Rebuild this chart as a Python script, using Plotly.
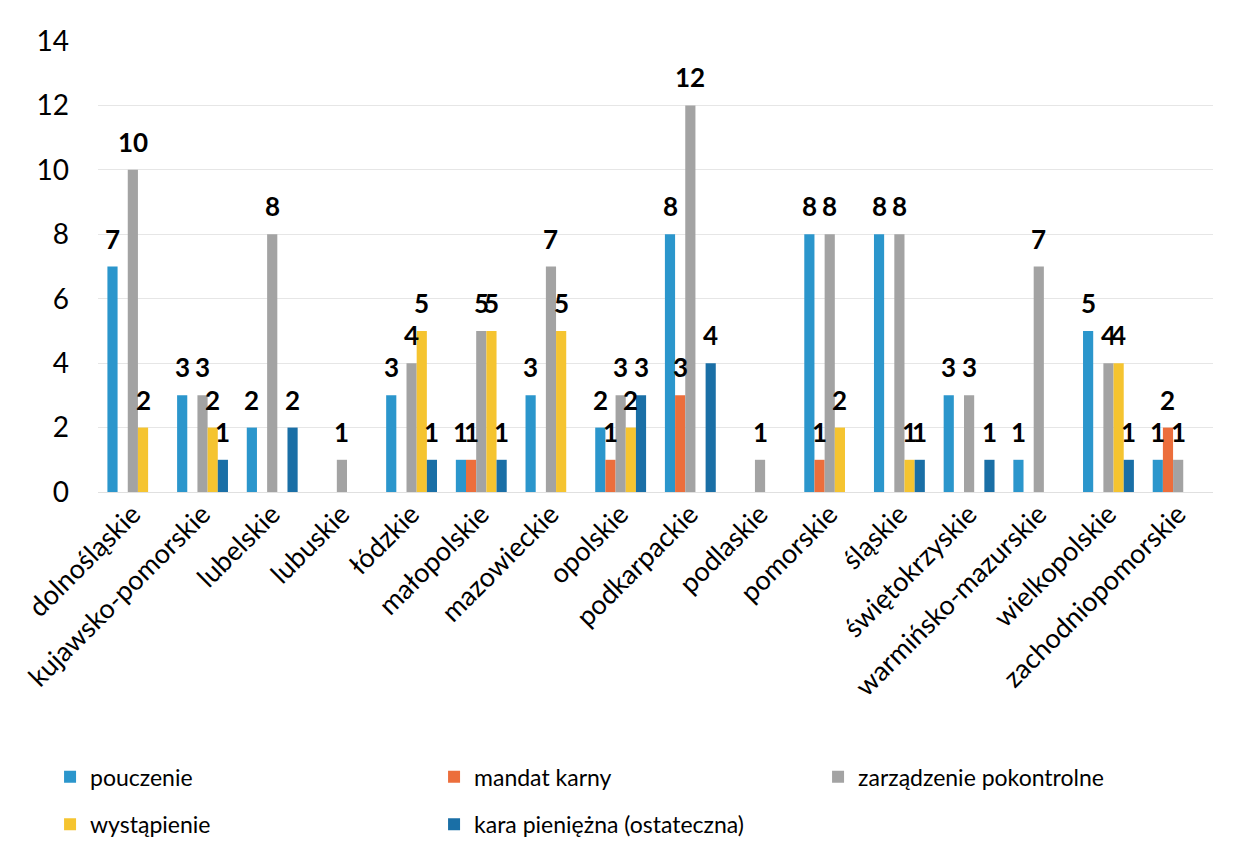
import plotly.graph_objects as go

regions = ["dolnośląskie", "kujawsko-pomorskie", "lubelskie", "lubuskie", "łódzkie",
           "małopolskie", "mazowieckie", "opolskie", "podkarpackie", "podlaskie",
           "pomorskie", "śląskie", "świętokrzyskie", "warmińsko-mazurskie",
           "wielkopolskie", "zachodniopomorskie"]

pouczenie = [7, 3, 2, 0, 3, 1, 3, 2, 8, 0, 8, 8, 3, 1, 5, 1]
mandat_karny = [0, 0, 0, 0, 0, 1, 0, 1, 3, 0, 1, 0, 0, 0, 0, 2]
zarzadzenie = [10, 3, 8, 1, 4, 5, 7, 3, 12, 1, 8, 8, 3, 7, 4, 1]
wystapienie = [2, 2, 0, 0, 5, 5, 5, 2, 0, 0, 2, 1, 0, 0, 4, 0]
kara = [0, 1, 2, 0, 1, 1, 0, 3, 4, 0, 0, 1, 1, 0, 1, 0]

series = [
    ("pouczenie", pouczenie, "#2b96cc"),
    ("mandat karny", mandat_karny, "#ec6e3c"),
    ("zarządzenie pokontrolne", zarzadzenie, "#a3a3a3"),
    ("wystąpienie", wystapienie, "#f5c430"),
    ("kara pieniężna (ostateczna)", kara, "#1a6fa6"),
]

FONT = "Lato"
BARGAP = 0.27

fig = go.Figure()
for k, (name, vals, color) in enumerate(series):
    fig.add_trace(go.Bar(
        x=regions, y=vals, name=name,
        marker=dict(color=color, line=dict(width=0)),
        # first three entries in the top legend row, the rest in the second
        legend="legend" if k < 3 else "legend2",
    ))

# data labels sit a bit above the bars, like Excel does; zeros get none
n = len(series)
bar_w = (1 - BARGAP) / n
for k, (name, vals, color) in enumerate(series):
    for i, v in enumerate(vals):
        if not v:
            continue
        fig.add_annotation(
            x=i + (k - (n - 1) / 2) * bar_w, y=v, xref="x", yref="y",
            text=f"<b>{v}</b>", showarrow=False, yanchor="bottom", yshift=10,
            font=dict(family=FONT, size=26, color="black"),
        )

legend_style = dict(
    orientation="h", x=-0.043, xanchor="left", yanchor="top",
    entrywidth=339, entrywidthmode="pixels",
    font=dict(family=FONT, size=23, color="black"),
    traceorder="normal", bgcolor="rgba(0,0,0,0)",
)

fig.update_layout(
    width=1236, height=854,
    margin=dict(l=90, r=31, t=33, b=370, autoexpand=False),
    barmode="group", bargap=BARGAP, bargroupgap=0,
    plot_bgcolor="white", paper_bgcolor="white",
    font=dict(family=FONT, color="black"),
    showlegend=True,
    legend=dict(legend_style, y=-0.584),
    legend2=dict(legend_style, y=-0.689),
)

fig.update_xaxes(
    tickangle=-45, tickfont=dict(family=FONT, size=27, color="black"),
    showline=False, showgrid=False, ticks="", automargin=False,
)
fig.update_yaxes(
    range=[0, 14], dtick=2, tickfont=dict(family=FONT, size=28, color="black"),
    showgrid=True, gridcolor="#e6e6e6", gridwidth=1,
    zeroline=True, zerolinecolor="#e0e0e0", zerolinewidth=1,
    showline=False, ticks="", ticklabelstandoff=28, automargin=False,
)

fig.write_html("out.html")
